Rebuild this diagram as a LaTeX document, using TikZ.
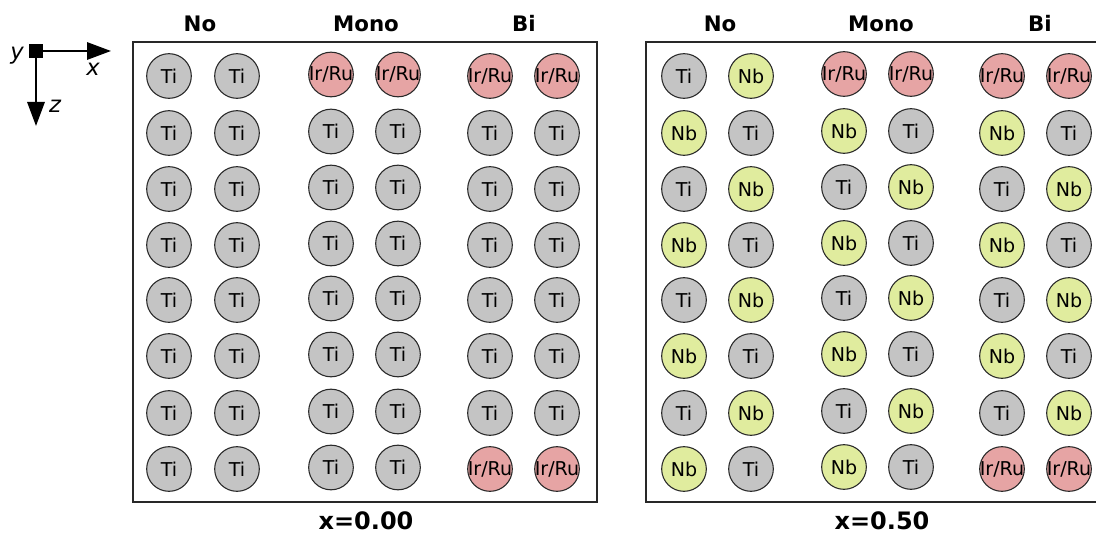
\documentclass[tikz,border=0pt]{standalone}
\usepackage{fontspec}
\setmainfont{DejaVu Sans}
\usetikzlibrary{arrows.meta}
\definecolor{tigray}{RGB}{196,196,196}
\definecolor{irpink}{RGB}{230,164,164}
\definecolor{nbgreen}{RGB}{224,236,158}
\definecolor{edge}{RGB}{40,40,40}
\tikzset{
  atom/.style={circle,draw=edge,line width=0.8pt,minimum size=33.5pt,inner sep=0pt,node contents={},
    label={[font=\fontsize{14.3}{14.3}\selectfont,inner sep=0pt]center:#1}},
  atomT/.style={atom=Ti,fill=tigray},
  atomN/.style={atom=Nb,fill=nbgreen},
  atomI/.style={atom=Ir/Ru,fill=irpink},
  panel/.style={draw=edge,line width=1.1pt},
  colhead/.style={font=\fontsize{16}{16}\selectfont\bfseries,anchor=base,inner sep=0pt},
  xlabel/.style={font=\fontsize{18}{18}\selectfont\bfseries,anchor=base,inner sep=0pt},
  axlabel/.style={font=\fontsize{17}{17}\selectfont\itshape},
  axarrow/.style={line width=1.5pt,-{Triangle[length=18pt,width=13pt]}}
}
\begin{document}
\begin{tikzpicture}[x=0.75pt,y=-0.75pt]
\useasboundingbox (0,0) rectangle (1096,534);
% axes
\node[fill=black,minimum size=10.5pt,inner sep=0pt] (orig) at (36,51) {};
\coordinate (xend) at (111,51);
\coordinate (zend) at (36,126);
\draw[axarrow] (orig.center) -- (xend);
\draw[axarrow] (orig.center) -- (zend);
\node[axlabel] (ylab) at (17,56) {y};
\node[axlabel] (xlab) at (93,69) {x};
\node[axlabel] (zlab) at (55,106) {z};
% panels
\node[panel,minimum width=348pt,minimum height=345pt,inner sep=0pt] (boxL) at (365,272) {};
\draw[panel] (646,42) rectangle (1110,502);
% headers
\node[colhead] (hL1) at (200,32) {No};
\node[colhead] (hL2) at (366,32) {Mono};
\node[colhead] (hL3) at (524,32) {Bi};
\node[colhead] (hR1) at (720,32) {No};
\node[colhead] (hR2) at (881,32) {Mono};
\node[colhead] (hR3) at (1040,32) {Bi};
\node[xlabel] (capL) at (366,529) {x=0.00};
\node[xlabel] (capR) at (882,529) {x=0.50};
% left panel atoms
\foreach \yy/\a/\b/\c/\d/\e/\f [count=\r] in {
  76/T/T/I/I/I/I, 133/T/T/T/T/T/T, 189/T/T/T/T/T/T, 245/T/T/T/T/T/T,
  300/T/T/T/T/T/T, 356/T/T/T/T/T/T, 413/T/T/T/T/T/T, 469/T/T/T/T/I/I}{
  \node[atom\a,name=L\r-1,at={(169,\yy)}];
  \node[atom\b,name=L\r-2,at={(237,\yy)}];
  \node[atom\c,name=L\r-3,at={(331,\yy-1.5)}];
  \node[atom\d,name=L\r-4,at={(398,\yy-1.5)}];
  \node[atom\e,name=L\r-5,at={(490,\yy)}];
  \node[atom\f,name=L\r-6,at={(557,\yy)}];
}
% right panel atoms
\foreach \yy/\a/\b/\c/\d/\e/\f [count=\r] in {
  76/T/N/I/I/I/I, 133/N/T/N/T/N/T, 189/T/N/T/N/T/N, 245/N/T/N/T/N/T,
  300/T/N/T/N/T/N, 356/N/T/N/T/N/T, 413/T/N/T/N/T/N, 469/N/T/N/T/I/I}{
  \node[atom\a,name=R\r-1,at={(684,\yy)}];
  \node[atom\b,name=R\r-2,at={(751,\yy)}];
  \node[atom\c,name=R\r-3,at={(844,\yy-2)}];
  \node[atom\d,name=R\r-4,at={(911,\yy-2)}];
  \node[atom\e,name=R\r-5,at={(1002,\yy)}];
  \node[atom\f,name=R\r-6,at={(1069,\yy)}];
}
\end{tikzpicture}
\end{document}
